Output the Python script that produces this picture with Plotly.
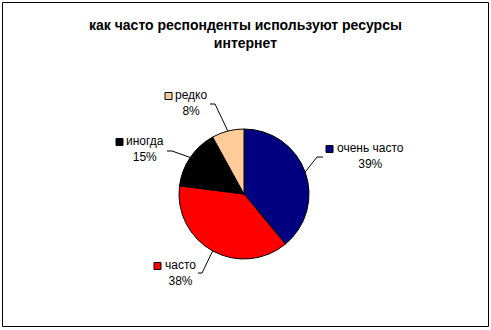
import math
import plotly.graph_objects as go

labels = ["очень часто", "часто", "иногда", "редко"]
values = [39, 38, 15, 8]
colors = ["#000080", "#FF0000", "#000000", "#FFCC99"]
title_text = "<b>как часто респонденты используют ресурсы<br>интернет</b>"

W, H = 491, 330
CX, CY, R = 244, 194, 65

def px(x):
    return x / W

def py(y):
    return 1 - y / H

# label text centres (px), and leader line start points (px)
label_pos = {
    "очень часто": (370, 156),
    "часто": (180, 273),
    "иногда": (145, 149),
    "редко": (191, 103),
}
leader_start = {
    "очень часто": [(323, 157), (317, 157)],
    "часто": [(198, 273), (202, 273)],
    "иногда": [(167, 151), (172, 151)],
    "редко": [(210, 104), (215, 104)],
}

fig = go.Figure()
fig.add_trace(go.Pie(
    labels=labels, values=values, sort=False, direction="clockwise", rotation=0,
    marker=dict(colors=colors, line=dict(color="#000000", width=1)),
    textinfo="none", hoverinfo="label+percent", showlegend=False,
    domain=dict(x=[px(CX - R), px(CX + R)], y=[py(CY + R), py(CY - R)]),
))

total = sum(values)
cum = 0
shapes = []
annotations = []
for lab, v, c in zip(labels, values, colors):
    mid = (cum + v / 2) / total * 2 * math.pi
    cum += v
    ex = CX + R * math.sin(mid)
    ey = CY - R * math.cos(mid)
    pts = leader_start[lab] + [(ex, ey)]
    path = "M " + " L ".join(f"{px(x)},{py(y)}" for x, y in pts)
    shapes.append(dict(type="path", path=path, xref="paper", yref="paper",
                       line=dict(color="#000000", width=1)))
    tx, ty = label_pos[lab]
    pct = round(v / total * 100)
    annotations.append(dict(text=f"{lab}<br>{pct}%", x=px(tx), y=py(ty),
                            xref="paper", yref="paper", showarrow=False,
                            xanchor="center", yanchor="middle", align="center",
                            font=dict(family="Liberation Sans, Arial", size=12, color="#000000")))
    # legend key square to the left of the label text
    tw = len(lab) * 6.0
    sx = tx - tw / 2 - 11
    sy = ty - 7
    shapes.append(dict(type="rect", xref="paper", yref="paper",
                       x0=px(sx), x1=px(sx + 7), y0=py(sy + 3.5), y1=py(sy - 3.5),
                       fillcolor=c, line=dict(color="#000000", width=1)))

# outer border
shapes.append(dict(type="rect", xref="paper", yref="paper",
                   x0=px(2.5), x1=px(488.5), y0=py(326.5), y1=py(2.5),
                   line=dict(color="#000000", width=1)))

annotations.append(dict(text=title_text, x=0.5, y=py(34), xref="paper", yref="paper",
                        showarrow=False, xanchor="center", yanchor="middle",
                        font=dict(family="Liberation Sans, Arial", size=14, color="#000000")))

fig.update_layout(
    width=W, height=H, margin=dict(l=0, r=0, t=0, b=0),
    paper_bgcolor="#FFFFFF", plot_bgcolor="#FFFFFF",
    shapes=shapes, annotations=annotations,
)
fig.write_html("out.html", include_plotlyjs=True)
